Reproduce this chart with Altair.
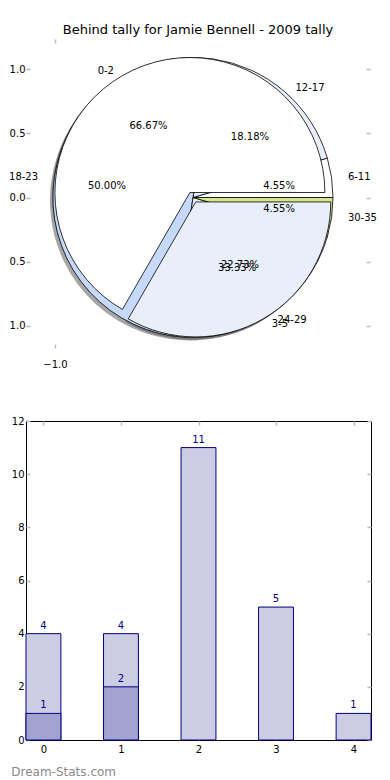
import altair as alt
import pandas as pd

# ---------------- data ----------------
title_text = "Behind tally for Jamie Bennell - 2009 tally"
pie1_labels = ["0-2", "3-5"]
pie1_values = [2, 1]
pie2_labels = ["6-11", "12-17", "18-23", "24-29", "30-35"]
pie2_values = [1, 4, 11, 5, 1]
bar_cats = [0, 1, 2, 3, 4]
bar_light = [4, 4, 11, 5, 1]
dark_cats = [0, 1]
bar_dark = [1, 2]
pie_y_ticks = [-1.0, -0.5, 0.0, 0.5, 1.0]
pie_x_ticks = [-1.0]
bar_y_ticks = [0, 2, 4, 6, 8, 10, 12]
watermark = "Dream-Stats.com"

# ---------------- style ----------------
FONT = "DejaVu Sans"
pie1_colors = ["#ffffff", "#ebf1fc"]
pie2_colors = ["#ffffff", "#e8eefa", "#c6d9fa", "#ebf1fc", "#d3e88c"]
explode1 = {"0-2": 0.045, "3-5": 0.04}
explode2 = {}
TICK = dict(tickColor="#bbbbbb", tickWidth=1.5, tickSize=4, offset=-4, domain=False,
            grid=False, labelFont=FONT, labelFontSize=10, labelColor="black")

# pie panel geometry (page px)
CX_PAGE, CY_PAGE = 192, 198.5
PX_X, PX_Y = 138.0, 128.0
TOP_L, TOP_R, TOP_T, TOP_B = 25, 369, 40, 349
R1PX, R2PX = 135, 140
pie_xs = alt.Scale(domain=[(TOP_L - CX_PAGE) / PX_X, (TOP_R - CX_PAGE) / PX_X], nice=False, zero=False)
pie_ys = alt.Scale(domain=[(CY_PAGE - TOP_B) / PX_Y, (CY_PAGE - TOP_T) / PX_Y], nice=False, zero=False)


def explode_expr(d):
    expr = "0"
    for k, v in d.items():
        expr = f"datum.label == '{k}' ? {v} : ({expr})"
    return expr


def pie_layers(labels, values, colors, explode, r_units, r_px, lab_f):
    df = pd.DataFrame({"label": labels, "value": values, "order": list(range(len(labels)))})
    base = (
        alt.Chart(df)
        .transform_joinaggregate(total="sum(value)")
        .transform_window(cum="sum(value)", sort=[alt.SortField("order")], frame=[None, 0])
        .transform_calculate(a0="2*PI*(datum.cum-datum.value)/datum.total")
        .transform_calculate(a1="2*PI*datum.cum/datum.total")
        .transform_calculate(mid="(datum.a0+datum.a1)/2")
        .transform_calculate(t1="2.5*PI-datum.a1")
        .transform_calculate(t2="2.5*PI-datum.a0")
        .transform_calculate(ex=explode_expr(explode))
        .transform_calculate(cx="datum.ex*cos(datum.mid)")
        .transform_calculate(cy="datum.ex*sin(datum.mid)")
        .transform_calculate(pct="format(100*datum.value/datum.total, '.2f') + '%'")
        .transform_calculate(lx=f"datum.cx + {lab_f * r_units}*cos(datum.mid)")
        .transform_calculate(ly=f"datum.cy + {lab_f * r_units}*sin(datum.mid)")
        .transform_calculate(px=f"datum.cx + {0.6 * r_units}*cos(datum.mid)")
        .transform_calculate(py=f"datum.cy + {0.6 * r_units}*sin(datum.mid)")
    )
    th = dict(theta=alt.Theta("t1:Q", scale=None, stack=None), theta2=alt.Theta2("t2:Q"))
    shadow = base.mark_arc(radius=r_px, fill="#4d4d4d", opacity=0.5, xOffset=-3, yOffset=3).encode(
        x=alt.X("cx:Q", scale=pie_xs, axis=None), y=alt.Y("cy:Q", scale=pie_ys, axis=None), **th)
    wedge = base.mark_arc(radius=r_px, stroke="black", strokeWidth=0.8).encode(
        x=alt.X("cx:Q", scale=pie_xs, axis=None), y=alt.Y("cy:Q", scale=pie_ys, axis=None),
        color=alt.Color("label:N", scale=alt.Scale(domain=labels, range=colors), legend=None), **th)
    pct = base.mark_text(font=FONT, fontSize=10, color="black", baseline="middle").encode(
        x=alt.X("px:Q", scale=pie_xs, axis=None), y=alt.Y("py:Q", scale=pie_ys, axis=None), text="pct:N")
    lab_r = base.transform_filter("datum.lx > 0").mark_text(
        font=FONT, fontSize=10, color="black", align="left", baseline="middle").encode(
        x=alt.X("lx:Q", scale=pie_xs, axis=None), y=alt.Y("ly:Q", scale=pie_ys, axis=None), text="label:N")
    lab_l = base.transform_filter("datum.lx <= 0").mark_text(
        font=FONT, fontSize=10, color="black", align="right", baseline="middle").encode(
        x=alt.X("lx:Q", scale=pie_xs, axis=None), y=alt.Y("ly:Q", scale=pie_ys, axis=None), text="label:N")
    return shadow, wedge, pct, lab_r, lab_l


s1, w1, p1, lr1, ll1 = pie_layers(pie1_labels, pie1_values, pie1_colors, explode1, 1.0, R1PX, 1.1)
s2, w2, p2, lr2, ll2 = pie_layers(pie2_labels, pie2_values, pie2_colors, explode2, 1.05, R2PX, 1.08)

# axes carriers for the pie panel
ax_df = pd.DataFrame({"v": [0.0]})
axes_a = alt.Chart(ax_df).mark_point(opacity=0).encode(
    x=alt.X("v:Q", scale=pie_xs, title=None,
            axis=alt.Axis(orient="bottom", values=pie_x_ticks, format=".1f", labelPadding=11, **TICK)),
    y=alt.Y("v:Q", scale=pie_ys, title=None,
            axis=alt.Axis(orient="left", values=pie_y_ticks, labelExpr="format(abs(datum.value), '.1f')",
                          labelPadding=1, **TICK)),
)
axes_b = alt.Chart(ax_df).mark_point(opacity=0).encode(
    x=alt.X("v:Q", scale=pie_xs, title=None,
            axis=alt.Axis(orient="top", values=pie_x_ticks, labels=False, **TICK)),
    y=alt.Y("v:Q", scale=pie_ys, title=None,
            axis=alt.Axis(orient="right", values=pie_y_ticks, labels=False, **TICK)),
)

top = alt.layer(axes_a, axes_b, s2, s1, w2, w1, p2, p1, lr2, ll2, lr1, ll1).resolve_axis(
    x="independent", y="independent"
).properties(
    width=TOP_R - TOP_L, height=TOP_B - TOP_T,
    view=alt.ViewBackground(stroke="transparent"),
    title=alt.TitleParams(title_text, font=FONT, fontSize=13, fontWeight="normal", color="black",
                          anchor="middle", offset=1),
)

# ---------------- bar panel ----------------
BW = 0.45
bar_xs = alt.Scale(domain=[-BW / 2, 4 + BW / 2], nice=False, zero=False)
bar_ys = alt.Scale(domain=[0, 12], nice=False)
light_df = pd.DataFrame({"cat": bar_cats, "val": bar_light})
dark_df = pd.DataFrame({"cat": dark_cats, "val": bar_dark})


def bars(df, fill, xaxis, yaxis):
    return alt.Chart(df).transform_calculate(
        x0=f"datum.cat - {BW / 2}", x1=f"datum.cat + {BW / 2}"
    ).mark_bar(fill=fill, stroke="#000080", strokeWidth=1).encode(
        x=alt.X("x0:Q", scale=bar_xs, title=None, axis=xaxis),
        x2="x1:Q",
        y=alt.Y("val:Q", scale=bar_ys, title=None, axis=yaxis),
        y2=alt.datum(0),
    )


light = bars(light_df, "#ccccE4",
             alt.Axis(orient="bottom", values=bar_cats, format="d", labelPadding=4, **TICK),
             alt.Axis(orient="left", values=bar_y_ticks, format="d", labelPadding=2, **TICK))
dark = bars(dark_df, "#a3a3d0",
            alt.Axis(orient="top", values=bar_cats, labels=False, **TICK),
            alt.Axis(orient="right", values=bar_y_ticks, labels=False, **TICK))


def bar_text(df):
    return alt.Chart(df).mark_text(font=FONT, fontSize=10, color="#000080", baseline="bottom", dy=-3).encode(
        x=alt.X("cat:Q", scale=bar_xs, axis=None),
        y=alt.Y("val:Q", scale=bar_ys, axis=None),
        text="val:Q",
    )


bottom = alt.layer(light, dark, bar_text(light_df), bar_text(dark_df)).resolve_axis(
    x="independent", y="independent"
).properties(
    width=370 - TOP_L, height=319,
    title=alt.TitleParams(watermark, orient="bottom", anchor="start", frame="bounds", font=FONT,
                          fontSize=12, fontWeight="normal", color="#8a8a8a", offset=13),
)

chart = alt.vconcat(top, bottom, spacing=45).properties(
    padding={"left": 0, "top": 15, "right": 0, "bottom": 0}
).configure_view(stroke="black", strokeWidth=1)

chart.save("out.html", embed_options={"renderer": "svg", "actions": False})
